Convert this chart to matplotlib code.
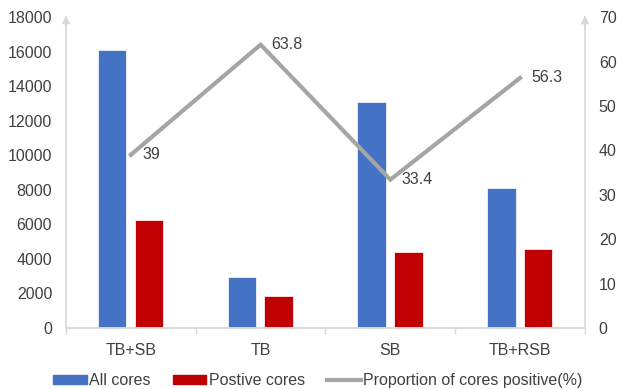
import matplotlib.pyplot as plt
import numpy as np
from matplotlib.patches import Patch
from matplotlib.lines import Line2D

plt.rcParams['font.family'] = ['Liberation Sans', 'DejaVu Sans']

# dados por grupo de biópsia
grupos = ['TB+SB', 'TB', 'SB', 'TB+RSB']
all_cores = [16100, 2950, 13100, 8120]
positive_cores = [6250, 1850, 4400, 4570]
proporcao = [39, 63.8, 33.4, 56.3]

azul = '#4472C4'
vermelho = '#C00000'
cinza = '#A5A5A5'
eixo = '#D9D9D9'
texto = '#404040'
fs = 11.5

fig = plt.figure(figsize=(6.17, 3.89), dpi=100)
ax = fig.add_axes([0.107, 0.157, 0.841, 0.799])
ax2 = ax.twinx()

x = np.arange(len(grupos))
w = 0.22
ax.bar(x - 0.145, all_cores, w, color=azul, edgecolor='white', linewidth=0.5)
ax.bar(x + 0.14, positive_cores, w, color=vermelho, edgecolor='white', linewidth=0.5)

ax2.plot(x, proporcao, color=cinza, linewidth=3, solid_joinstyle='miter')
for xi, v in zip(x, proporcao):
    ax2.annotate(f'{v:g}', (xi, v), xytext=(8, 0), textcoords='offset points',
                 ha='left', va='center', fontsize=fs, color=texto)

ax.set_xlim(-0.5, 3.5)
ax.set_ylim(0, 18000)
ax.set_yticks(range(0, 18001, 2000))
ax2.set_ylim(0, 70)
ax2.set_yticks(range(0, 71, 10))

# marcas do eixo x entre as categorias
ax.set_xticks(x)
ax.set_xticklabels(grupos)
ax.set_xticks(np.arange(-0.5, 4.0, 1.0), minor=True)
ax.tick_params(axis='x', which='major', length=0, pad=11, labelsize=fs, labelcolor=texto)
ax.tick_params(axis='x', which='minor', length=4, color=eixo, width=1)
ax.tick_params(axis='y', length=0, pad=10, labelsize=fs, labelcolor=texto)
ax2.tick_params(axis='y', length=0, pad=10, labelsize=fs, labelcolor=texto)

for a in (ax, ax2):
    a.spines['top'].set_visible(False)
    for s in ('left', 'right', 'bottom'):
        a.spines[s].set_color(eixo)
        a.spines[s].set_linewidth(1.2)
ax.spines['right'].set_visible(False)
ax2.spines['left'].set_visible(False)

# setas no topo dos eixos verticais
for xa in (0, 1):
    ax.annotate('', xy=(xa, 1.005), xytext=(xa, 0.96), xycoords='axes fraction',
                arrowprops=dict(arrowstyle='-|>', color=eixo, lw=1.2,
                                mutation_scale=11, shrinkA=0, shrinkB=0))

handles = [Patch(color=azul), Patch(color=vermelho), Line2D([], [], color=cinza, lw=3)]
labels = ['All cores', 'Postive cores', 'Proportion of cores positive(%)']
fig.legend(handles, labels, loc='lower center', bbox_to_anchor=(0.515, -0.035), ncol=3,
           frameon=False, fontsize=fs, labelcolor=texto, handlelength=2.1,
           handleheight=0.55, handletextpad=0.15, columnspacing=1.4)

fig.savefig('out.png', dpi=100)
